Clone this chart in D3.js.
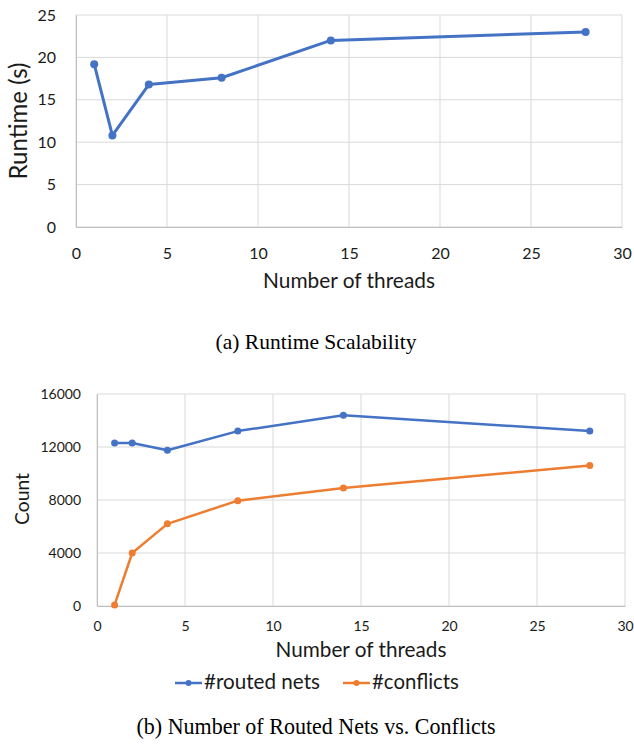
<!DOCTYPE html>
<html>
<head>
<meta charset="utf-8">
<script src="https://cdn.jsdelivr.net/npm/d3@7"></script>
<style>
  body { margin: 0; background: #fff; }
  svg text { font-family: Lato, "Open Sans", sans-serif; fill: #1a1a1a; }
  svg text.caption { font-family: "Liberation Serif", "Times New Roman", serif; fill: #000; }
  .grid line { stroke: #d9d9d9; stroke-width: 1; }
</style>
</head>
<body>
<div id="chart"></div>
<script>
// thread counts used in both experiments
const threads = [1, 2, 4, 8, 14, 28];

// (a) runtime in seconds
const runtime = [19.2, 10.8, 16.8, 17.6, 22.0, 23.0];

// (b) routed nets and conflicts
const routedNets = [12300, 12300, 11750, 13200, 14400, 13200];
const conflicts = [80, 4000, 6200, 7950, 8900, 10600];

const xTicks = [0, 5, 10, 15, 20, 25, 30];
const runtimeTicks = [0, 5, 10, 15, 20, 25];
const countTicks = [0, 4000, 8000, 12000, 16000];

const blue = "#4472c4", orange = "#ed7d31";

const svg = d3.select("#chart").append("svg")
    .attr("width", 634)
    .attr("height", 747);

// scale a text's font so it spans the width seen in the picture
function fitText(sel, width) {
    let fs = parseFloat(sel.style("font-size"));
    let w = sel.node().getComputedTextLength();
    sel.style("font-size", (fs * width / w).toFixed(2) + "px");
    return sel;
}

function drawPanel(cfg) {
    let x = d3.scaleLinear().domain([0, 30]).range([cfg.left, cfg.right]);
    let y = d3.scaleLinear().domain(cfg.yDomain).range([cfg.bottom, cfg.top]);

    let g = svg.append("g");

    // grid
    let grid = g.append("g").attr("class", "grid");
    grid.selectAll(".vx").data(xTicks).join("line")
        .attr("x1", d => x(d)).attr("x2", d => x(d))
        .attr("y1", cfg.top).attr("y2", cfg.bottom);
    grid.selectAll(".hy").data(cfg.yTicks).join("line")
        .attr("x1", cfg.left).attr("x2", cfg.right)
        .attr("y1", d => y(d)).attr("y2", d => y(d));

    // axes (labels only, Excel style)
    let xAxis = d3.axisBottom(x).tickValues(xTicks).tickSize(0).tickPadding(cfg.xPad);
    let yAxis = d3.axisLeft(y).tickValues(cfg.yTicks).tickSize(0).tickPadding(cfg.yPad)
        .tickFormat(d3.format("d"));

    let gx = g.append("g").attr("transform", `translate(0,${cfg.bottom})`).call(xAxis);
    let gy = g.append("g").attr("transform", `translate(${cfg.left},0)`).call(yAxis);
    [gx, gy].forEach(a => {
        a.select(".domain").attr("stroke", "#bfbfbf");
        a.selectAll("text").style("font-size", cfg.tickSize + "px").attr("fill", "#1a1a1a");
    });

    // series
    let line = d3.line().x(d => x(d[0])).y(d => y(d[1]));
    cfg.series.forEach(s => {
        let pts = threads.map((t, i) => [t, s.values[i]]);
        g.append("path")
            .datum(pts)
            .attr("fill", "none")
            .attr("stroke", s.color)
            .attr("stroke-width", cfg.lineWidth)
            .attr("stroke-linejoin", "round")
            .attr("d", line);
        g.selectAll(null).data(pts).join("circle")
            .attr("cx", d => x(d[0]))
            .attr("cy", d => y(d[1]))
            .attr("r", cfg.r)
            .attr("fill", s.color);
    });

    // titles
    let xt = g.append("text")
        .attr("x", cfg.xTitleX)
        .attr("y", cfg.xTitleY)
        .attr("text-anchor", "middle")
        .style("font-size", "20px")
        .text("Number of threads");
    fitText(xt, cfg.xTitleW);

    let yt = g.append("text")
        .attr("transform", `translate(${cfg.yTitleX},${cfg.yTitleY}) rotate(-90)`)
        .attr("text-anchor", "middle")
        .style("font-size", "20px")
        .text(cfg.yTitle);
    fitText(yt, cfg.yTitleW);

    return x;
}

drawPanel({
    left: 76, right: 622, top: 15, bottom: 227,
    yDomain: [0, 25], yTicks: runtimeTicks,
    xPad: 21, yPad: 20, tickSize: 16,
    lineWidth: 3, r: 4,
    xTitleX: 349, xTitleY: 288, xTitleW: 172,
    yTitleX: 27, yTitleY: 121, yTitleW: 117,
    yTitle: "Runtime (s)",
    series: [{values: runtime, color: blue}]
});

drawPanel({
    left: 97, right: 625, top: 394, bottom: 606,
    yDomain: [0, 16000], yTicks: countTicks,
    xPad: 15, yPad: 16, tickSize: 14,
    lineWidth: 2.5, r: 3.5,
    xTitleX: 361, xTitleY: 657, xTitleW: 171,
    yTitleX: 29, yTitleY: 499, yTitleW: 52,
    yTitle: "Count",
    series: [{values: routedNets, color: blue}, {values: conflicts, color: orange}]
});

// legend of panel (b)
const legendItems = [
    {label: "#routed nets", color: blue, x: 175, w: 116},
    {label: "#conflicts", color: orange, x: 343, w: 87}
];
const legend = svg.append("g").attr("transform", "translate(0,683)");
legendItems.forEach(d => {
    legend.append("line")
        .attr("x1", d.x).attr("x2", d.x + 27)
        .attr("stroke", d.color).attr("stroke-width", 2.5);
    legend.append("circle")
        .attr("cx", d.x + 13.5).attr("r", 3)
        .attr("fill", d.color);
    let t = legend.append("text")
        .attr("x", d.x + 29).attr("y", 6)
        .style("font-size", "18px")
        .text(d.label);
    fitText(t, d.w);
});

// captions
fitText(svg.append("text").attr("class", "caption")
    .attr("x", 316).attr("y", 349)
    .attr("text-anchor", "middle")
    .style("font-size", "18px")
    .text("(a) Runtime Scalability"), 201);

fitText(svg.append("text").attr("class", "caption")
    .attr("x", 316).attr("y", 734)
    .attr("text-anchor", "middle")
    .style("font-size", "18px")
    .text("(b) Number of Routed Nets vs. Conflicts"), 359);
</script>
</body>
</html>
